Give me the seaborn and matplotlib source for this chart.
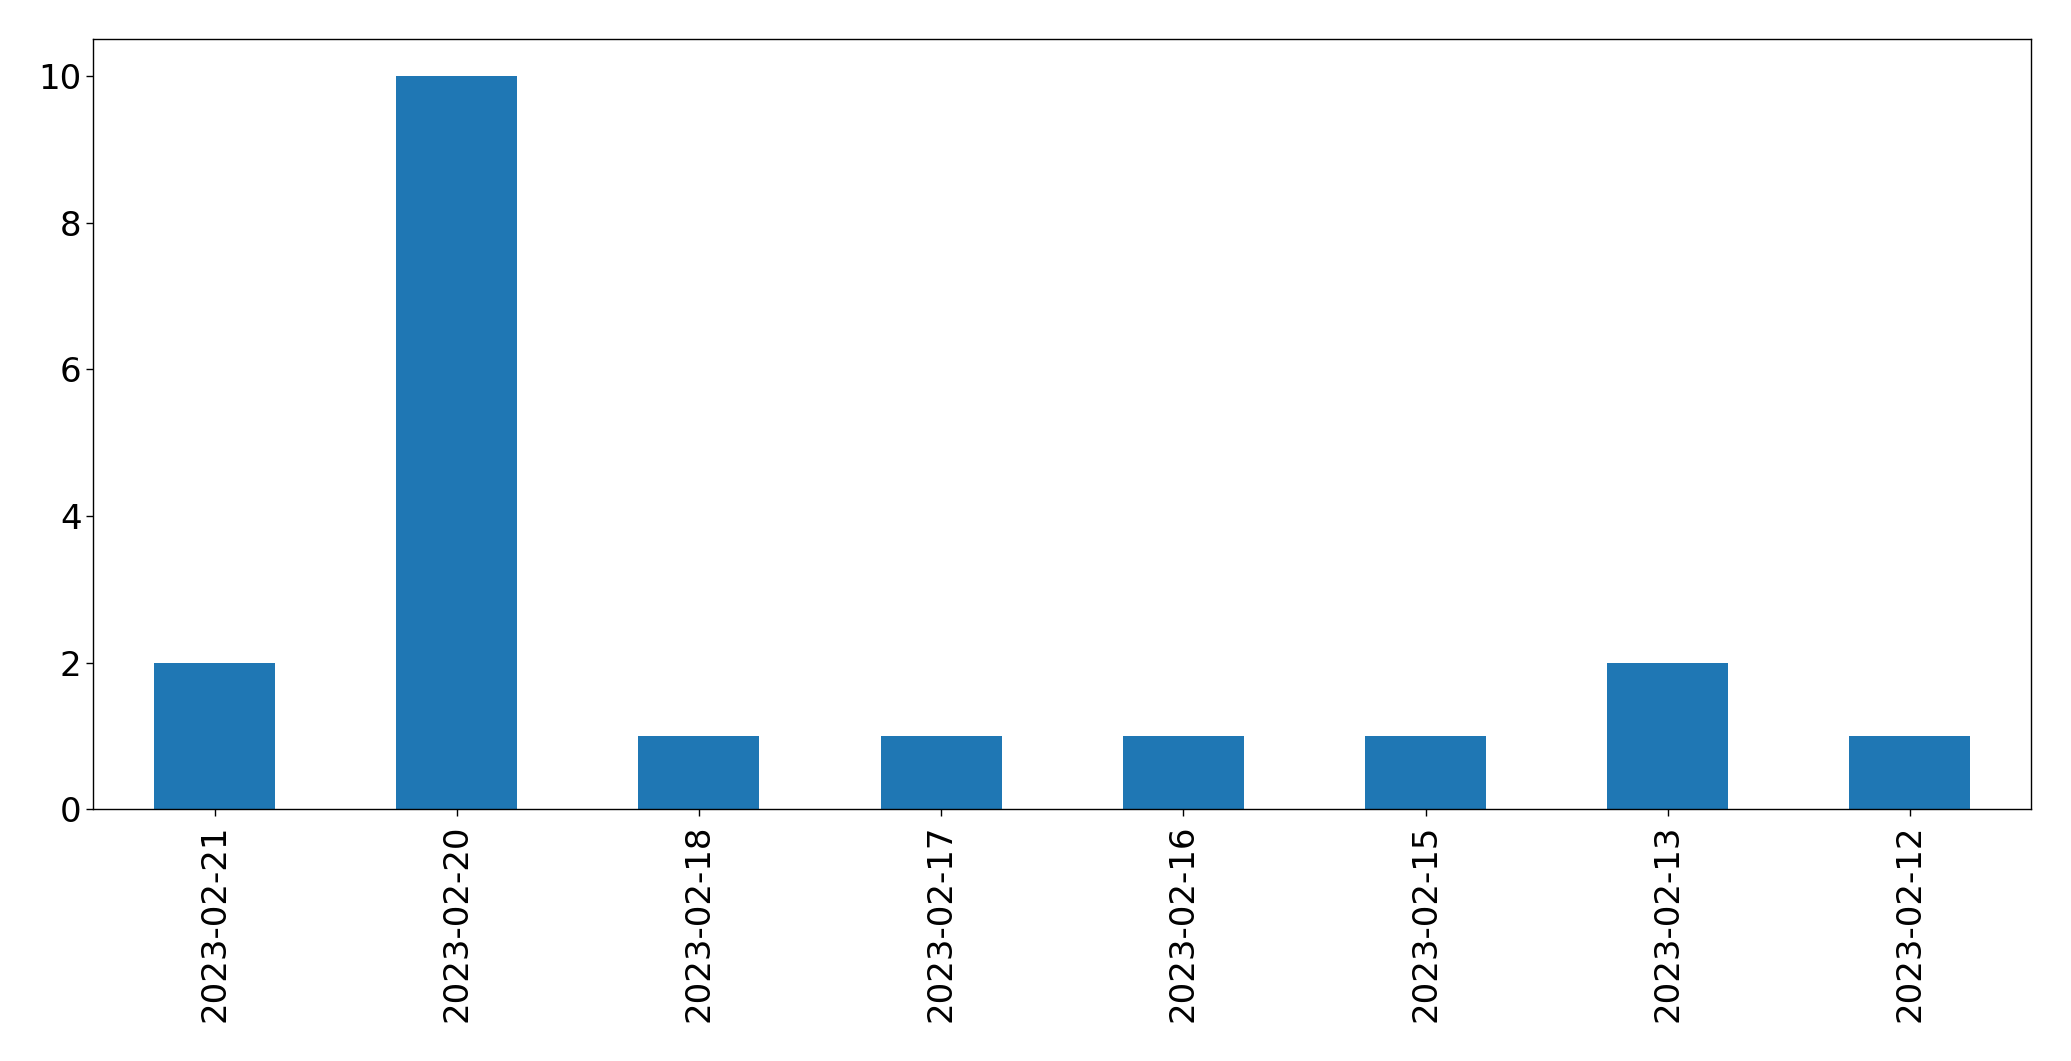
import matplotlib
matplotlib.use('Agg')
import matplotlib.pyplot as plt
import seaborn as sns
import pandas as pd

# Dates and counts
dates = ['2023-02-21', '2023-02-20', '2023-02-18', '2023-02-17',
         '2023-02-16', '2023-02-15', '2023-02-13', '2023-02-12']
counts = [2, 10, 1, 1, 1, 1, 2, 1]

dfCounts = pd.DataFrame({'date': dates, 'count': counts})

# Plain matplotlib look: black spines, outward ticks
sns.set_style("ticks", {'axes.edgecolor': 'black', 'xtick.color': 'black',
                        'ytick.color': 'black', 'text.color': 'black'})
plt.rcParams['font.family'] = ['DejaVu Sans']

fig = plt.figure(figsize=(20.71, 10.61), dpi=100)
ax = fig.add_axes([0.0451, 0.2373, 0.9356, 0.7258])

sns.barplot(data=dfCounts, x='date', y='count', order=dates, color='#1f77b4',
            saturation=1, width=0.5, linewidth=0, ax=ax)

ax.set_xlim(-0.5, len(dates) - 0.5)
ax.set_ylim(0, 10.5)
ax.set_yticks([0, 2, 4, 6, 8, 10])
ax.set_xlabel('')
ax.set_ylabel('')
ax.tick_params(axis='both', labelsize=24.5, length=5, width=1)
ax.tick_params(axis='x', labelrotation=90, pad=6)
for side in ['top', 'right', 'left', 'bottom']:
    ax.spines[side].set_visible(True)
    ax.spines[side].set_linewidth(1.0)

fig.savefig('out.png', dpi=100)
